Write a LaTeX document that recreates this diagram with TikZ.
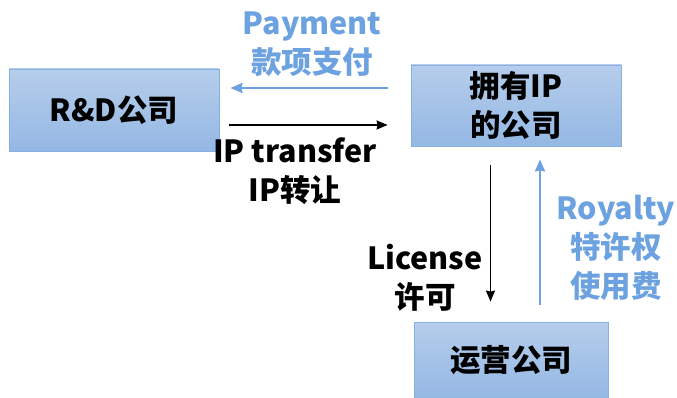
\documentclass[tikz,border=0pt]{standalone}
\usepackage{fontspec}
\setmainfont{Noto Sans CJK SC}
\usetikzlibrary{arrows.meta}
\definecolor{lblue}{RGB}{108,162,224}
\definecolor{boxtop}{RGB}{182,205,235}
\definecolor{boxbot}{RGB}{148,184,228}
\definecolor{boxline}{RGB}{135,176,226}
\tikzset{
  company/.style={draw=boxline, line width=0.8pt, top color=boxtop, bottom color=boxbot,
    inner sep=0pt, align=center, font=\fontsize{30.5}{39}\selectfont\bfseries},
  lbl/.style={align=center, font=\fontsize{30.5}{39}\selectfont\bfseries, inner sep=0pt},
  bluelbl/.style={lbl, text=lblue},
  blackarrow/.style={line width=1.9pt, -{Stealth[length=11pt,width=9pt,inset=1pt]}},
  bluearrow/.style={line width=2.4pt, lblue, -{Stealth[length=12pt,width=10pt,inset=1pt]}}
}
\begin{document}
\begin{tikzpicture}[x=1pt,y=-1pt]
\useasboundingbox (0,0) rectangle (677,398);
\node[company, minimum width=210pt, minimum height=82pt] (rd) at (114,110) {R\&D公司};
\node[company, minimum width=210pt, minimum height=81pt] (owner) at (516,105.5) {拥有IP\\的公司};
\node[company, minimum width=194pt, minimum height=76pt] (ops) at (511,360) {运营公司};

\draw[bluearrow, shorten <=23pt, shorten >=11pt] (owner.west |- 0,88) -- (rd.east |- 0,88);
\draw[blackarrow, shorten <=10pt, shorten >=23pt] (rd.east |- 0,125) -- (owner.west |- 0,125);
\draw[blackarrow, shorten <=19pt, shorten >=20pt] (owner.south -| 490.5,0) -- (ops.north -| 490.5,0);
\draw[bluearrow, shorten <=17pt, shorten >=13pt] (ops.north -| 540,0) -- (owner.south -| 540,0);

\node[bluelbl] (pay) at (312,44) {Payment\\款项支付};
\node[lbl] (ipt) at (295,171) {IP transfer\\IP转让};
\node[lbl] (lic) at (425,278) {License\\许可};
\node[bluelbl] (roy) at (616,248) {Royalty\\特许权\\使用费};
\end{tikzpicture}
\end{document}
